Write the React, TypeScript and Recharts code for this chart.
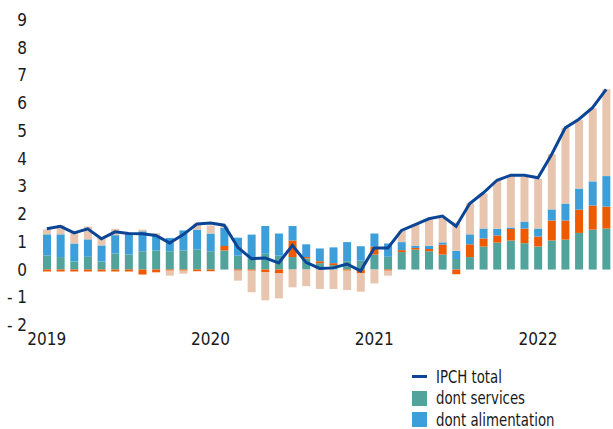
import { ComposedChart, Bar, Line, XAxis, YAxis } from "recharts";

const months = Array.from({ length: 42 }, (_, i) => {
  const y = 2019 + Math.floor(i / 12);
  const m = (i % 12) + 1;
  return `${y}-${String(m).padStart(2, "0")}`;
});

const ipchTotal = [
  1.47, 1.56, 1.32, 1.47, 1.11, 1.36, 1.3, 1.29, 1.23, 0.96, 1.26, 1.64,
  1.68, 1.6, 0.8, 0.39, 0.42, 0.24, 0.87, 0.26, 0.04, 0.06, 0.2, -0.05,
  0.78, 0.78, 1.41, 1.62, 1.83, 1.93, 1.56, 2.38, 2.77, 3.22, 3.4, 3.4,
  3.31, 4.15, 5.11, 5.42, 5.84, 6.5,
];

const services = [
  0.51, 0.45, 0.29, 0.46, 0.29, 0.58, 0.54, 0.66, 0.69, 0.66, 0.69, 0.72,
  0.66, 0.69, 0.5, 0.4, 0.57, 0.5, 0.45, 0.4, 0.23, 0.16, 0.3, 0.32,
  0.54, 0.46, 0.63, 0.72, 0.66, 0.54, 0.38, 0.45, 0.83, 0.97, 1.05, 0.95,
  0.83, 1.05, 1.08, 1.32, 1.44, 1.48,
];

const manufactures = [
  -0.07, -0.07, -0.07, -0.07, -0.07, -0.07, -0.07, -0.18, -0.1, -0.04, -0.04, -0.06,
  -0.06, 0.16, -0.04, -0.04, -0.1, -0.14, 0.6, 0.05, 0.07, 0.07, -0.04, -0.14,
  0.28, -0.04, 0.07, 0.06, 0.08, 0.36, -0.17, 0.46, 0.29, 0.26, 0.41, 0.53,
  0.36, 0.72, 0.69, 0.84, 0.87, 0.79,
];

const alimentation = [
  0.76, 0.82, 0.65, 0.63, 0.58, 0.66, 0.78, 0.72, 0.52, 0.48, 0.72, 0.72,
  0.64, 0.65, 0.65, 0.86, 1.0, 0.8, 0.52, 0.46, 0.46, 0.57, 0.69, 0.52,
  0.48, 0.48, 0.29, 0.08, 0.12, 0.08, 0.3, 0.36, 0.36, 0.24, 0.06, 0.25,
  0.29, 0.4, 0.61, 0.76, 0.87, 1.1,
];

const energie = [
  0.18, 0.33, 0.38, 0.46, 0.28, 0.23, 0, 0.06, 0.1, -0.18, -0.11, 0.22,
  0.29, 0.08, -0.36, -0.78, -1.01, -0.9, -0.64, -0.6, -0.7, -0.7, -0.7, -0.66,
  -0.5, -0.18, 0.4, 0.76, 0.94, 0.88, 1.02, 1.12, 1.26, 1.73, 1.85, 1.61,
  1.8, 1.99, 2.73, 2.47, 2.64, 3.13,
];

const yTicks = [-2, -1, 0, 1, 2, 3, 4, 5, 6, 7, 8, 9];

const data = months.map((month, i) => ({
  month,
  total: ipchTotal[i],
  services: services[i],
  manufactures: manufactures[i],
  alimentation: alimentation[i],
  energie: energie[i],
}));

const COLORS = {
  line: "#0b4596",
  services: "#52a39b",
  manufactures: "#ee5a00",
  alimentation: "#3d9fd9",
  energie: "#e8c5ae",
};

const FONT = '"Liberation Sans Narrow", "DejaVu Sans Condensed", "Roboto", sans-serif';

const legendItems = [
  { label: "IPCH total", color: COLORS.line, kind: "line" },
  { label: "dont services", color: COLORS.services, kind: "box" },
  { label: "dont alimentation", color: COLORS.alimentation, kind: "box" },
];

export default function App() {
  return (
    <div
      style={{
        position: "absolute",
        left: 0,
        top: 0,
        width: 613,
        height: 429,
        overflow: "hidden",
        background: "#fff",
        fontFamily: FONT,
      }}
    >
      <ComposedChart
        width={613}
        height={429}
        data={data}
        stackOffset="sign"
        margin={{ top: 20, right: 0, bottom: 74, left: 0 }}
      >
        <XAxis
          dataKey="month"
          interval={11}
          axisLine={false}
          tickLine={false}
          tickSize={0}
          tickMargin={8}
          height={30}
          tick={{ fontSize: 17, fill: "#1a1a1a", fontFamily: FONT }}
          tickFormatter={(v: string) => (v.endsWith("-01") ? v.slice(0, 4) : "")}
        />
        <YAxis
          domain={[-2, 9]}
          ticks={yTicks}
          interval={0}
          width={40}
          axisLine={false}
          tickLine={false}
          tickSize={0}
          tickMargin={13}
          tick={{ fontSize: 17, fill: "#1a1a1a", fontFamily: FONT }}
          tickFormatter={(v: number) => (v < 0 ? `- ${Math.abs(v)}` : `${v}`)}
        />
        <Bar dataKey="services" stackId="a" fill={COLORS.services} barSize={8} isAnimationActive={false} />
        <Bar dataKey="manufactures" stackId="a" fill={COLORS.manufactures} barSize={8} isAnimationActive={false} />
        <Bar dataKey="alimentation" stackId="a" fill={COLORS.alimentation} barSize={8} isAnimationActive={false} />
        <Bar dataKey="energie" stackId="a" fill={COLORS.energie} barSize={8} isAnimationActive={false} />
        <Line
          dataKey="total"
          type="linear"
          stroke={COLORS.line}
          strokeWidth={3}
          dot={false}
          isAnimationActive={false}
        />
      </ComposedChart>

      {/* legend is cut off by the frame in the original, only the first three entries show */}
      <div style={{ position: "absolute", left: 412, top: 366 }}>
        {legendItems.map((item) => (
          <div
            key={item.label}
            style={{ display: "flex", alignItems: "center", height: 21.5, fontSize: 17, color: "#1a1a1a" }}
          >
            <span
              style={{
                display: "inline-block",
                width: 15,
                height: item.kind === "line" ? 3 : 15,
                background: item.color,
                marginRight: 9,
              }}
            />
            <span
              style={{
                display: "inline-block",
                whiteSpace: "nowrap",
                transform: "scaleX(0.87)",
                transformOrigin: "left center",
              }}
            >
              {item.label}
            </span>
          </div>
        ))}
      </div>
    </div>
  );
}
